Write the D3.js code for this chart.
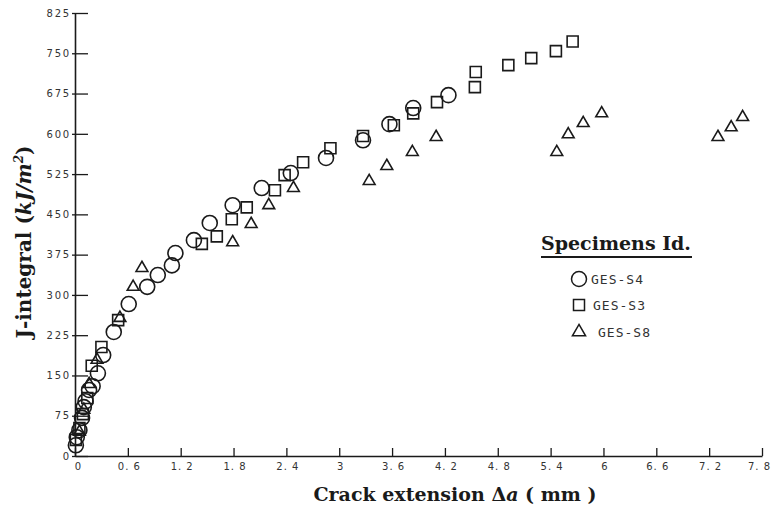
<!DOCTYPE html>
<html>
<head>
<meta charset="utf-8">
<script src="https://cdn.jsdelivr.net/npm/d3@7"></script>
<style>
  html, body { margin: 0; padding: 0; background: #fff; }
  svg { display: block; }
</style>
</head>
<body>
<svg id="chart" width="773" height="508"></svg>
<script>
// ---- Data ----
const xTicks = [0, 0.6, 1.2, 1.8, 2.4, 3, 3.6, 4.2, 4.8, 5.4, 6, 6.6, 7.2, 7.8];
const yTicks = [0, 75, 150, 225, 300, 375, 450, 525, 600, 675, 750, 825];

const seriesNames = ["GES-S4", "GES-S3", "GES-S8"];

// GES-S4 (circles): [crack extension mm, J kJ/m2]
const gesS4 = [
  [0.01, 20], [0.02, 35], [0.05, 48], [0.08, 71], [0.10, 91], [0.12, 102],
  [0.16, 123], [0.20, 130], [0.26, 154], [0.32, 188], [0.44, 231], [0.61, 283],
  [0.82, 315], [0.94, 337], [1.10, 355], [1.14, 378], [1.35, 402], [1.53, 434],
  [1.79, 467], [2.12, 499], [2.45, 527], [2.85, 555], [3.27, 588], [3.57, 618],
  [3.84, 648], [4.24, 672]
];

// GES-S3 (squares)
const gesS3 = [
  [0.01, 30], [0.05, 52], [0.09, 78], [0.14, 108], [0.19, 168], [0.30, 203],
  [0.49, 253], [1.44, 395], [1.61, 409], [1.78, 441], [1.95, 463], [2.27, 495],
  [2.38, 523], [2.59, 547], [2.90, 573], [3.27, 596], [3.62, 616], [3.84, 638],
  [4.11, 659], [4.54, 687], [4.55, 715], [4.92, 728], [5.18, 741], [5.46, 754],
  [5.65, 772]
];

// GES-S8 (triangles)
const gesS8 = [
  [0.05, 45], [0.10, 86], [0.16, 134], [0.25, 179], [0.51, 257], [0.66, 315],
  [0.76, 350], [1.79, 398], [2.00, 432], [2.20, 467], [2.48, 499], [3.34, 512],
  [3.54, 540], [3.83, 566], [4.10, 594], [5.47, 566], [5.60, 599], [5.77, 620],
  [5.98, 638], [7.30, 594], [7.45, 612], [7.58, 631]
];

// ---- Drawing ----
const svg = d3.select("#chart");
const ink = "#1a1a1a";
const serif = "DejaVu Serif, Liberation Serif, serif";

const x = d3.scaleLinear().domain([0, 7.8]).range([75, 762]);
const y = d3.scaleLinear().domain([0, 825]).range([456, 13]);

// Y axis
const yAxis = svg.append("g")
  .attr("transform", `translate(${x(0)},0)`)
  .call(d3.axisLeft(y).tickValues(yTicks).tickSize(-13).tickSizeOuter(0).tickPadding(4)
    .tickFormat(d3.format("d")));
yAxis.select(".domain").attr("stroke", ink).attr("stroke-width", 1.6);
yAxis.selectAll(".tick line").attr("stroke", ink).attr("stroke-width", 1.3)
  .attr("x1", -3);
yAxis.selectAll(".tick text")
  .attr("font-family", "DejaVu Sans, sans-serif")
  .attr("font-size", 10)
  .attr("letter-spacing", 1.8)
  .attr("fill", "#333");

// X axis
const xAxis = svg.append("g")
  .attr("transform", `translate(0,${y(0)})`)
  .call(d3.axisBottom(x).tickValues(xTicks).tickSize(-8).tickSizeOuter(0).tickPadding(7)
    .tickFormat(d => String(d).replace(".", ". ")));
xAxis.select(".domain").attr("stroke", ink).attr("stroke-width", 1.6);
xAxis.selectAll(".tick line").attr("stroke", ink).attr("stroke-width", 1.3);
xAxis.selectAll(".tick text")
  .attr("font-family", "DejaVu Sans, sans-serif")
  .attr("font-size", 10)
  .attr("letter-spacing", 1)
  .attr("dx", (d, i) => i === 0 ? 3 : (i === xTicks.length - 1 ? -3 : 1))
  .attr("fill", "#333");

// Symbols
const symCircle = d3.symbol().type(d3.symbolCircle).size(Math.PI * 7.5 * 7.5);
const symSquare = d3.symbol().type(d3.symbolSquare).size(11 * 11);
const symTri = d3.symbol().type(d3.symbolTriangle).size(60);

function drawSeries(data, sym, cls) {
  svg.append("g").attr("class", cls)
    .selectAll("path").data(data).join("path")
    .attr("transform", d => `translate(${x(d[0])},${y(d[1])})`)
    .attr("d", sym)
    .attr("fill", "none")
    .attr("stroke", ink)
    .attr("stroke-width", 1.6);
}
drawSeries(gesS3, symSquare, "s3");
drawSeries(gesS8, symTri, "s8");
drawSeries(gesS4, symCircle, "s4");

// Axis titles
svg.append("text")
  .attr("transform", "translate(31,242) rotate(-90)")
  .attr("text-anchor", "middle")
  .attr("font-family", serif)
  .attr("font-weight", "bold")
  .attr("font-size", 20)
  .attr("fill", ink)
  .call(t => {
    t.append("tspan").text("J-integral (");
    t.append("tspan").attr("font-style", "italic").text("kJ/m");
    t.append("tspan").attr("font-size", 12).attr("dy", -8).attr("font-style", "italic").text("2");
    t.append("tspan").attr("dy", 8).text(")");
  });

svg.append("text")
  .attr("x", 455).attr("y", 501)
  .attr("text-anchor", "middle")
  .attr("font-family", serif)
  .attr("font-weight", "bold")
  .attr("font-size", 19)
  .attr("fill", ink)
  .call(t => {
    t.append("tspan").text("Crack extension \u0394");
    t.append("tspan").attr("font-style", "italic").text("a");
    t.append("tspan").text(" ( mm )");
  });

// Legend
const legend = svg.append("g");
legend.append("text")
  .attr("x", 541).attr("y", 250)
  .attr("font-family", serif)
  .attr("font-weight", "bold")
  .attr("font-size", 19)
  .attr("fill", ink)
  .text("Specimens Id.");
legend.append("line")
  .attr("x1", 541).attr("x2", 692).attr("y1", 257).attr("y2", 257)
  .attr("stroke", ink).attr("stroke-width", 2);

const legendSyms = [symCircle, symSquare, d3.symbol().type(d3.symbolTriangle).size(75)];
const legendY = [279, 305, 332];
const legendTextX = [591, 593, 598];
seriesNames.forEach((name, i) => {
  legend.append("path")
    .attr("transform", `translate(579,${legendY[i]})`)
    .attr("d", legendSyms[i])
    .attr("fill", "none").attr("stroke", ink).attr("stroke-width", 1.5);
  legend.append("text")
    .attr("x", legendTextX[i]).attr("y", legendY[i] + 5)
    .attr("font-family", "DejaVu Sans Mono, monospace")
    .attr("font-size", 13)
    .attr("letter-spacing", 1)
    .attr("fill", "#333")
    .text(name);
});
</script>
</body>
</html>
